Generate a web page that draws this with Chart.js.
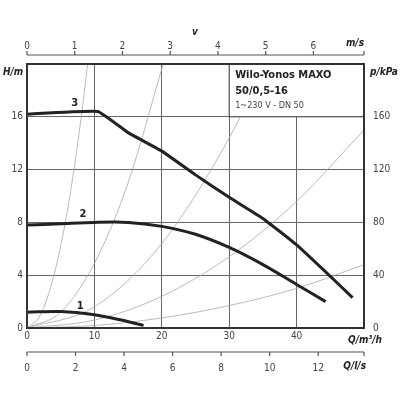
<!DOCTYPE html>
<html><head><script src="https://cdn.jsdelivr.net/npm/chart.js"></script>
<style>body{margin:0;background:#fff}#w{width:400px;height:400px}</style></head>
<body><div id="w"><canvas id="c"></canvas></div>
<script>
const curve3 = [[0,16.2],[10.5,16.4],[15,14.8],[20,13.4],[25,11.6],[30,9.9],[35,8.3],[40,6.3],[44,4.4],[48.3,2.3]];
const curve2 = [[0,7.8],[5,7.9],[10,8.0],[15,8.0],[20,7.7],[25,7.1],[30,6.1],[35,4.8],[40,3.3],[44.3,2.0]];
const curve1 = [[0,1.2],[5,1.25],[10,1.0],[14,0.6],[17.3,0.2]];
const sys1 = [[0,0],[2,1],[4,4],[6,8.9],[8,15.8],[9,20]];
const sys2 = [[0,0],[5,1.2],[10,4.9],[15,11],[20.2,20]];
const sys3 = [[0,0],[10,1.6],[20,6.4],[30,14.4],[35.4,20]];
const sys4 = [[0,0],[10,0.6],[20,2.4],[30,5.4],[40,9.6],[50,15]];
const sys5 = [[0,0],[10,0.19],[20,0.76],[30,1.7],[40,3.0],[50,4.8]];
const hTicks = [0,4,8,12,16];
const pTicks = [0,40,80,120,160];
const qTicks = [0,10,20,30,40];
const vTicks = [0,1,2,3,4,5,6];
const lsTicks = [0,2,4,6,8,10,12];
const curveLabels = [["1",7.9,1.6],["2",8.3,8.6],["3",7.1,17.0]];

const pts = a => a.map(p=>({x:p[0],y:p[1]}));
const sysDs = [sys1,sys2,sys3,sys4,sys5].map(s=>({data:pts(s),borderColor:'#aaa',borderWidth:0.8,pointRadius:0,showLine:true,cubicInterpolationMode:'monotone',clip:true}));
const pumpDs = [curve1,curve2,curve3].map((s,i)=>({data:pts(s),borderColor:'#222',borderWidth:3,pointRadius:0,showLine:true,tension:i==2?0.1:0.3,clip:true}));
const txt = '#444';
const F = {family:'"DejaVu Sans Condensed","Liberation Sans",sans-serif',size:10};
const deco = {id:'deco',afterDatasetsDraw(ch){
  const c=ch.ctx, x=ch.scales.x, y=ch.scales.y, v=ch.scales.v, l=ch.scales.ls;
  c.save();
  c.font='bold 10px "DejaVu Sans",sans-serif';c.fillStyle='#222';c.textAlign='center';c.textBaseline='middle';
  curveLabels.forEach(t=>c.fillText(t[0],x.getPixelForValue(t[1]),y.getPixelForValue(t[2])));
  const bx=x.getPixelForValue(30), by=y.getPixelForValue(16), r=ch.chartArea.right, t=ch.chartArea.top;
  c.fillStyle='#fff';c.fillRect(bx,t,r-bx,by-t);
  c.strokeStyle='#333';c.lineWidth=1;c.strokeRect(bx,t,r-bx,by-t);
  c.textAlign='left';c.fillStyle='#222';c.font='bold 11px "DejaVu Sans Condensed",sans-serif';
  c.fillText('Wilo-Yonos MAXO',bx+6,t+11);c.fillText('50/0,5-16',bx+6,t+27);
  c.font='9px "DejaVu Sans Condensed",sans-serif';c.fillStyle='#444';c.fillText('1~230 V - DN 50',bx+6,t+42);
  c.strokeStyle='#333';c.lineWidth=2;c.strokeRect(ch.chartArea.left,t,r-ch.chartArea.left,ch.chartArea.bottom-t);
  c.lineWidth=1.2;c.strokeStyle='#555';
  c.beginPath();c.moveTo(x.left,55);c.lineTo(r,55);
  vTicks.forEach(tk=>{const px=v.getPixelForValue(tk);c.moveTo(px,55);c.lineTo(px,51);});
  c.moveTo(r,55);c.lineTo(r,51);
  c.moveTo(x.left,352);c.lineTo(r,352);
  lsTicks.forEach(tk=>{const px=l.getPixelForValue(tk);c.moveTo(px,352);c.lineTo(px,356);});
  c.moveTo(r,352);c.lineTo(r,356);
  c.stroke();
  c.font='italic bold 10px "DejaVu Sans Condensed",sans-serif';c.fillStyle='#222';
  c.textAlign='center';c.fillText('v',195,32);
  c.textAlign='right';c.fillText('m/s',r,43);c.fillText('Q/m³/h',r+18,340);c.fillText('Q/l/s',r+2,366);
  c.textAlign='left';c.fillText('H/m',3,72);c.fillText('p/kPa',r+6,72);
  c.restore();
}};
new Chart(document.getElementById('c'),{type:'scatter',data:{datasets:[...pumpDs,...sysDs]},
plugins:[deco],
options:{responsive:true,maintainAspectRatio:false,animation:false,
 layout:{padding:{left:0,right:0,top:30,bottom:20}},
 plugins:{legend:{display:false},tooltip:{enabled:false}},
 scales:{
  x:{type:'linear',position:'bottom',min:0,max:50,afterBuildTicks:s=>{s.ticks=qTicks.map(v=>({value:v}));},
     ticks:{color:txt,font:F,padding:2},grid:{color:'#666',lineWidth:1,drawTicks:false},border:{display:false},afterFit:s=>{s.height=20;}},
  ls:{type:'linear',position:'bottom',min:0,max:50/3.6,weight:1,afterBuildTicks:s=>{s.ticks=lsTicks.map(v=>({value:v}));},
     ticks:{color:txt,font:F,padding:14},grid:{display:false,drawTicks:false},border:{display:false},afterFit:s=>{s.height=32;}},
  v:{type:'linear',position:'top',min:0,max:50*0.1412,afterBuildTicks:s=>{s.ticks=vTicks.map(v=>({value:v}));},
     ticks:{color:txt,font:F,padding:12},grid:{display:false,drawTicks:false},border:{display:false},afterFit:s=>{s.height=34;}},
  y:{type:'linear',position:'left',min:0,max:20,afterBuildTicks:s=>{s.ticks=hTicks.map(v=>({value:v}));},
     ticks:{color:txt,font:F,padding:4},grid:{color:'#666',lineWidth:1,drawTicks:false},border:{display:false},afterFit:s=>{s.width=27;}},
  p:{type:'linear',position:'right',min:0,max:200,afterBuildTicks:s=>{s.ticks=pTicks.map(v=>({value:v}));},
     ticks:{color:txt,font:F,padding:4},grid:{display:false,drawTicks:true,tickLength:5,tickColor:'#555'},border:{display:false},afterFit:s=>{s.width=36;}}
 }}});
</script></body></html>
